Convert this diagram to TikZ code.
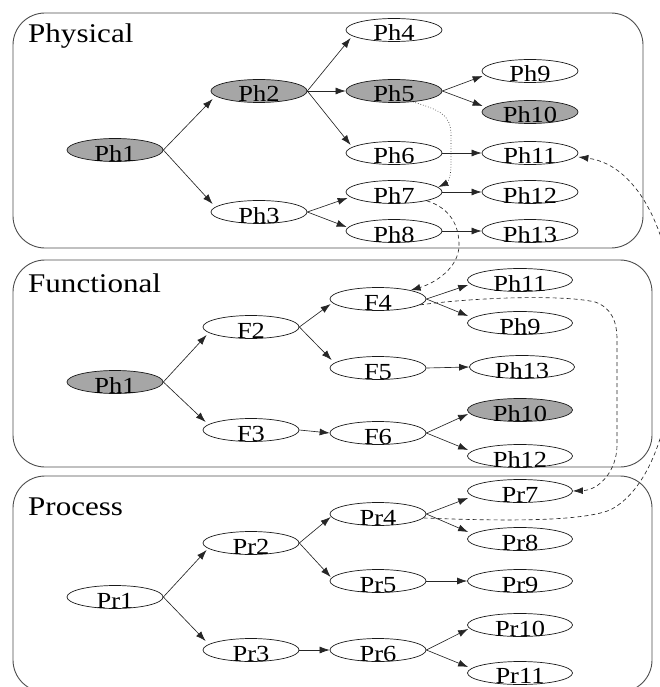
\documentclass[tikz,border=0pt]{standalone}
\usepackage{fontspec}
\setmainfont[FakeStretch=1.15]{Liberation Serif}
\usetikzlibrary{shapes.geometric,arrows.meta}
\newcommand\nlab[1]{\smash{\raisebox{-11pt}{#1}}}
\begin{document}
\begin{tikzpicture}[x=1pt,y=-1pt,
  panel/.style={draw=black!70, line width=0.9pt, rounded corners=32pt},
  ptitle/.style={anchor=base west, font=\fontsize{27}{27}\selectfont, inner sep=0pt},
  nd/.style={ellipse, draw=black!90, line width=0.7pt, fill=white, minimum width=96pt, minimum height=23pt, inner sep=1pt, font=\fontsize{23}{23}\selectfont},
  wide/.style={minimum width=105pt},
  shaded/.style={fill=black!35},
  arr/.style={draw=black!85, line width=0.65pt, -{Latex[length=10pt,width=7pt]}},
  dotarr/.style={arr, dotted},
  dasharr/.style={arr, dash pattern=on 4pt off 3pt},
]
\useasboundingbox (0,0) rectangle (660,687);
\clip (0,0) rectangle (660,687);

% panels
\draw[panel] (13,13) rectangle (643,248);
\draw[panel] (13,260) rectangle (652,467);
\draw[panel] (13,476) rectangle (652,692);
\node[ptitle] (tphys) at (28,43) {Physical};
\node[ptitle] (tfunc) at (28,292) {Functional};
\node[ptitle] (tproc) at (28,515) {Process};

% Physical
\node[nd,shaded] (ph1) at (115,150) {\nlab{Ph1}};
\node[nd,shaded] (ph2) at (259,91) {\nlab{Ph2}};
\node[nd] (ph3) at (259,212) {\nlab{Ph3}};
\node[nd] (ph4) at (394,30) {\nlab{Ph4}};
\node[nd,shaded] (ph5) at (394,91) {\nlab{Ph5}};
\node[nd] (ph6) at (394,153) {\nlab{Ph6}};
\node[nd] (ph7) at (394,192) {\nlab{Ph7}};
\node[nd] (ph8) at (394,231) {\nlab{Ph8}};
\node[nd] (ph9) at (530,71) {\nlab{Ph9}};
\node[nd,shaded] (ph10) at (530,112) {\nlab{Ph10}};
\node[nd] (ph11) at (530,153) {\nlab{Ph11}};
\node[nd] (ph12) at (530,192) {\nlab{Ph12}};
\node[nd] (ph13) at (530,231) {\nlab{Ph13}};

% Functional
\node[nd,shaded] (fph1) at (115,382) {\nlab{Ph1}};
\node[nd] (f2) at (251,327) {\nlab{F2}};
\node[nd] (f3) at (251,430) {\nlab{F3}};
\node[nd] (f4) at (378,299) {\nlab{F4}};
\node[nd] (f5) at (378,368) {\nlab{F5}};
\node[nd] (f6) at (378,433) {\nlab{F6}};
\node[nd,wide] (fph11) at (520,280) {\nlab{Ph11}};
\node[nd,wide] (fph9) at (520,323) {\nlab{Ph9}};
\node[nd,wide] (fph13) at (522,367) {\nlab{Ph13}};
\node[nd,wide,shaded] (fph10) at (520,410) {\nlab{Ph10}};
\node[nd,wide] (fph12) at (520,456) {\nlab{Ph12}};

% Process
\node[nd] (pr1) at (115,597) {\nlab{Pr1}};
\node[nd] (pr2) at (251,543) {\nlab{Pr2}};
\node[nd] (pr3) at (251,650) {\nlab{Pr3}};
\node[nd] (pr4) at (378,514) {\nlab{Pr4}};
\node[nd] (pr5) at (378,581) {\nlab{Pr5}};
\node[nd] (pr6) at (378,650) {\nlab{Pr6}};
\node[nd,wide] (pr7) at (520,491) {\nlab{Pr7}};
\node[nd,wide] (pr8) at (520,539) {\nlab{Pr8}};
\node[nd,wide] (pr9) at (520,581) {\nlab{Pr9}};
\node[nd,wide] (pr10) at (520,625) {\nlab{Pr10}};
\node[nd,wide] (pr11) at (520,673) {\smash{\raisebox{-10pt}{Pr11}}};

% Physical edges
\draw[arr] (ph1.east) -- ([xshift=2pt,yshift=-8pt]ph2.west);
\draw[arr] (ph1.east) -- ([xshift=2pt,yshift=8pt]ph3.west);
\draw[arr] (ph2.east) -- ([xshift=5pt,yshift=-8pt]ph4.west);
\draw[arr] (ph2.east) -- (ph5.west);
\draw[arr] (ph2.east) -- ([xshift=5pt,yshift=8pt]ph6.west);
\draw[arr] (ph3.east) -- ([xshift=2pt,yshift=-6pt]ph7.west);
\draw[arr] (ph3.east) -- ([xshift=1pt,yshift=4pt]ph8.west);
\draw[arr] (ph5.east) -- ([xshift=1pt,yshift=-5pt]ph9.west);
\draw[arr] (ph5.east) -- ([xshift=1pt,yshift=6pt]ph10.west);
\draw[arr] (ph6.east) -- (ph11.west);
\draw[arr] (ph7.east) -- (ph12.west);
\draw[arr] (ph8.east) -- (ph13.west);

% Functional edges
\draw[arr] (fph1.east) -- ([xshift=4pt,yshift=-8pt]f2.west);
\draw[arr] (fph1.east) -- ([xshift=3pt,yshift=8pt]f3.west);
\draw[arr] (f2.east) -- ([xshift=1pt,yshift=-5pt]f4.west);
\draw[arr] (f2.east) -- ([xshift=2pt,yshift=8pt]f5.west);
\draw[arr] (f3.east) -- (f6.west);
\draw[arr] (f4.east) -- ([xshift=1pt,yshift=-5pt]fph11.west);
\draw[arr] (f4.east) -- ([xshift=1pt,yshift=7pt]fph9.west);
\draw[arr] (f5.east) -- (fph13.west);
\draw[arr] (f6.east) -- ([xshift=1pt,yshift=-4pt]fph10.west);
\draw[arr] (f6.east) -- ([xshift=1pt,yshift=6pt]fph12.west);

% Process edges
\draw[arr] (pr1.east) -- ([xshift=4pt,yshift=-7pt]pr2.west);
\draw[arr] (pr1.east) -- ([xshift=3pt,yshift=9pt]pr3.west);
\draw[arr] (pr2.east) -- ([xshift=1pt,yshift=-3pt]pr4.west);
\draw[arr] (pr2.east) -- ([xshift=1pt,yshift=4pt]pr5.west);
\draw[arr] (pr3.east) -- (pr6.west);
\draw[arr] (pr4.east) -- ([xshift=1pt,yshift=-7pt]pr7.west);
\draw[arr] (pr4.east) -- ([xshift=1pt,yshift=7pt]pr8.west);
\draw[arr] (pr5.east) -- (pr9.west);
\draw[arr] (pr6.east) -- ([xshift=1pt,yshift=-4pt]pr10.west);
\draw[arr] (pr6.east) -- ([xshift=1pt,yshift=6pt]pr11.west);

% cross links
\draw[dotarr] (ph5.-30) .. controls (440,110) and (451,115) .. (451,135)
  -- (451,165) .. controls (451,178) and (447,183) .. ([xshift=-4pt,yshift=5pt]ph7.east);
\draw[dasharr] (ph7.-15) .. controls (450,208) and (459,225) .. (459,245)
  .. controls (459,268) and (435,283) .. (f4.15);
\draw[dasharr] (f4.-8) .. controls (470,298) and (560,294) .. (595,302)
  .. controls (612,308) and (617,322) .. (617,340) -- (617,445)
  .. controls (617,470) and (600,490) .. (pr7.east);
\draw[dasharr] (pr4.-5) .. controls (500,521) and (580,522) .. (610,510)
  .. controls (650,490) and (675,420) .. (675,330)
  .. controls (675,240) and (640,165) .. ([yshift=-4pt]ph11.east);
\end{tikzpicture}
\end{document}
